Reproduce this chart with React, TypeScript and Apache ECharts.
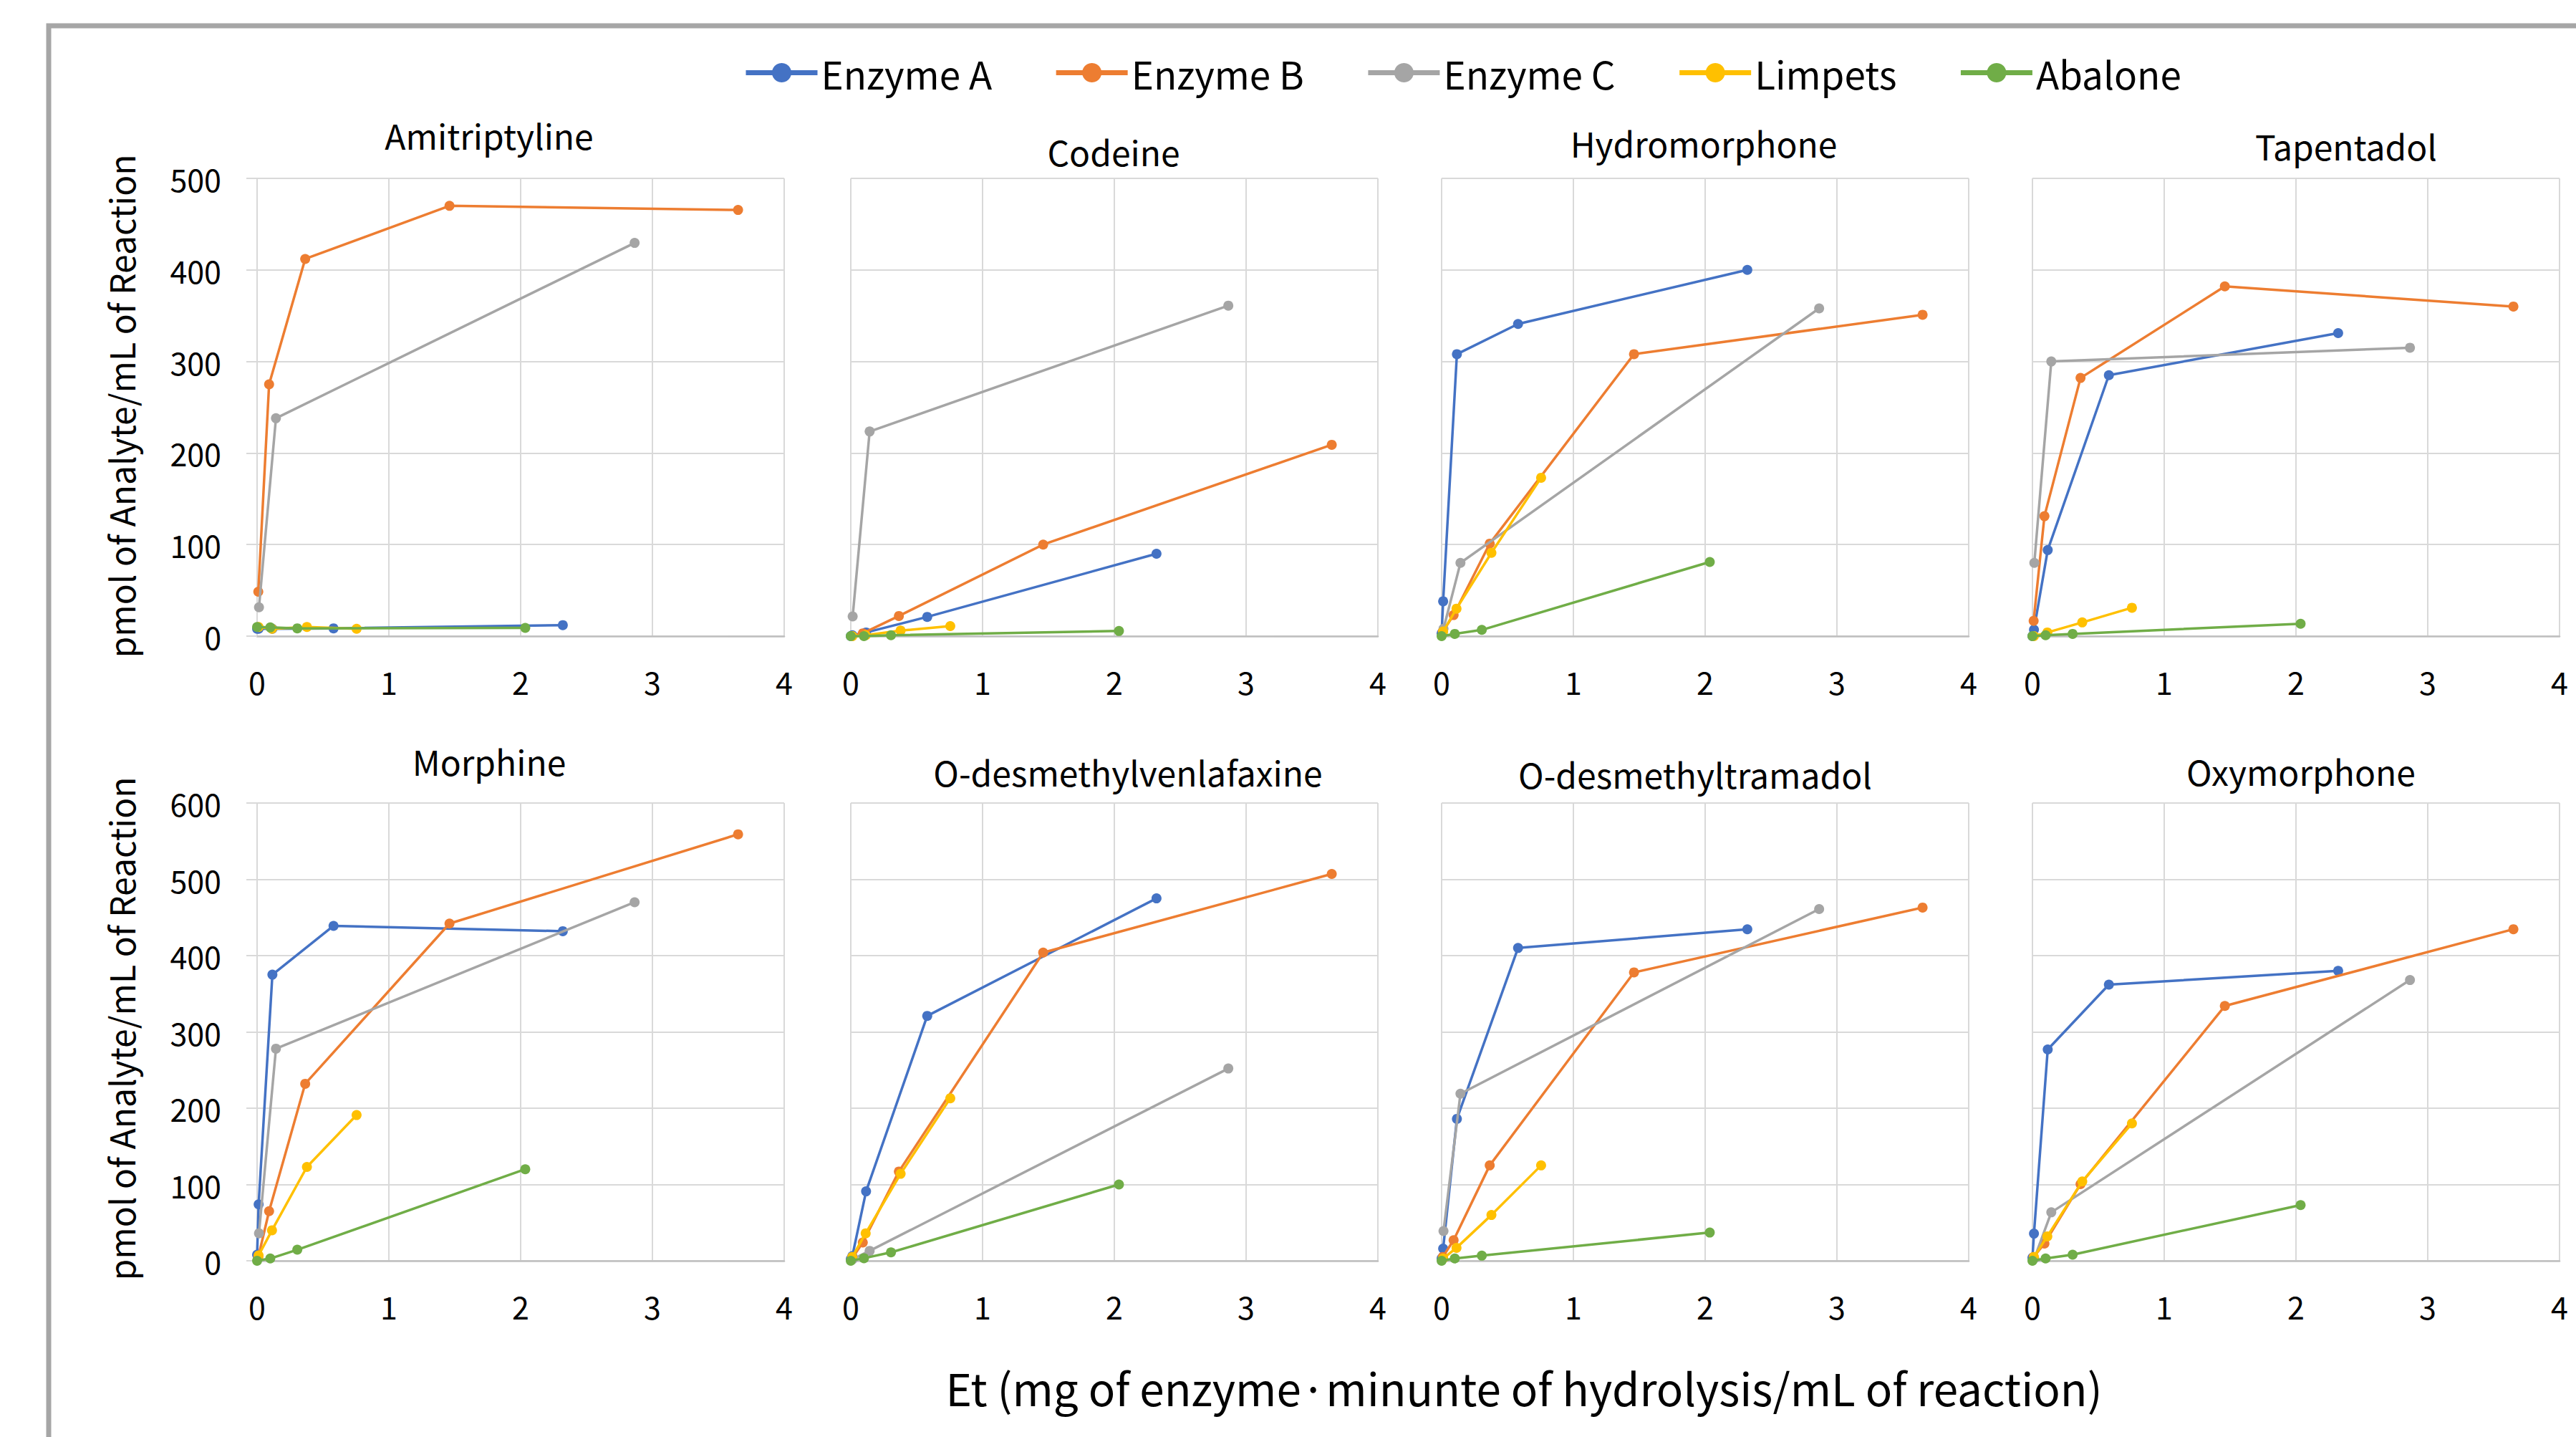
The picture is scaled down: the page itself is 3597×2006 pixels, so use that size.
import React, { useEffect, useRef } from "react";
import * as echarts from "echarts";

// ---------------- DATA ----------------
const drugs = [
  "Amitriptyline",
  "Codeine",
  "Hydromorphone",
  "Tapentadol",
  "Morphine",
  "O-desmethylvenlafaxine",
  "O-desmethyltramadol",
  "Oxymorphone",
];
const seriesNames = ["Enzyme A", "Enzyme B", "Enzyme C", "Limpets", "Abalone"];
const seriesColors = ["#4472C4", "#ED7D31", "#A5A5A5", "#FFC000", "#70AD47"];
const xTicks = [0, 1, 2, 3, 4];
const yMaxByRow = [500, 600];

// Et values (mg enzyme·min / mL) for each source
const etEnzymeA = [0, 0.0116, 0.116, 0.58, 2.32];
const etEnzymeB = [0.0091, 0.091, 0.365, 1.46, 3.65];
const etEnzymeC = [0.0143, 0.143, 2.865];
const etLimpets = [0.0113, 0.113, 0.378, 0.755];
const etAbalone = [0, 0.1, 0.305, 2.035];

// pmol analyte / mL, one row per drug (same order as `drugs`)
const enzymeAValues = [
  [8, 8, 8, 8.5, 12],
  [0, 1, 4, 21, 90],
  [3, 38, 308, 341, 400],
  [0, 7, 94, 285, 331],
  [8, 74, 375, 439, 432],
  [2, 6, 91, 321, 475],
  [3, 16, 186, 410, 434.5],
  [4, 35.6, 277, 362, 380],
];
const enzymeBValues = [
  [48.5, 275, 412, 470, 465.5],
  [0, 3, 22, 100, 209],
  [5, 23, 101, 308, 351],
  [16.7, 131, 282, 382, 360],
  [5, 65, 232, 442, 559],
  [3, 24, 117, 404, 507],
  [5, 27, 125, 378, 463],
  [5, 22.6, 100.5, 334, 434.6],
];
const enzymeCValues = [
  [31.5, 238, 429.5],
  [21.5, 223.5, 361],
  [8, 80, 358],
  [80, 300, 315],
  [36, 278, 470],
  [2, 13, 252],
  [39, 219, 461],
  [3, 63.5, 368],
];
const limpetsValues = [
  [10, 8, 10, 8],
  [0, 1, 6, 11],
  [5, 30, 91, 173],
  [0, 4, 15, 31],
  [7, 40, 123, 191],
  [5, 36, 114, 213],
  [3, 17, 60, 125],
  [5, 32, 104, 180],
];
const abaloneValues = [
  [10, 9.5, 8.5, 9],
  [0, 0, 1, 5.6],
  [0, 2.4, 6.8, 81],
  [0, 1, 2.4, 13.5],
  [0, 3, 14.5, 120],
  [0, 3.4, 11, 100],
  [0, 3, 6.7, 37],
  [0, 3, 8, 73],
];

const yAxisTitle = "pmol of Analyte/mL of Reaction";
const xAxisTitle = "Et (mg of enzyme·minunte of hydrolysis/mL of reaction)";

// ---------------- LAYOUT ----------------
const FONT = "'Noto Sans CJK JP', 'Noto Sans', sans-serif";
const colLefts = [359, 1188, 2013, 2838];
const colWidth = 736;
const rowTops = [249, 1121];
const rowHeight = 639;
const titlePos = [
  [683, 188],
  [1555, 211],
  [2379, 199],
  [3276, 203],
  [683, 1062],
  [1575, 1077],
  [2367, 1080],
  [3213, 1076],
];
const GRID = "#D9D9D9";

export default function App() {
  const ref = useRef<HTMLDivElement>(null);

  useEffect(() => {
    if (!ref.current) return;
    const chart = echarts.init(ref.current, undefined, { renderer: "svg" });

    const etArrays = [etEnzymeA, etEnzymeB, etEnzymeC, etLimpets, etAbalone];
    const valArrays = [enzymeAValues, enzymeBValues, enzymeCValues, limpetsValues, abaloneValues];

    const grids: any[] = [];
    const xAxes: any[] = [];
    const yAxes: any[] = [];
    const series: any[] = [];
    const graphics: any[] = [];

    drugs.forEach((drug, d) => {
      const row = Math.floor(d / 4);
      const col = d % 4;
      grids.push({
        left: colLefts[col],
        top: rowTops[row],
        width: colWidth,
        height: rowHeight,
        containLabel: false,
        outerBoundsMode: "none",
      });
      xAxes.push({
        type: "value",
        gridIndex: d,
        min: xTicks[0],
        max: xTicks[xTicks.length - 1],
        interval: 1,
        axisLine: { show: true, onZero: false, lineStyle: { color: "#BFBFBF", width: 2.5 } },
        axisTick: { show: false },
        axisLabel: { show: true, fontSize: 43, color: "#000", margin: 41, fontFamily: FONT },
        splitLine: { show: true, lineStyle: { color: GRID, width: 2 } },
      });
      yAxes.push({
        type: "value",
        gridIndex: d,
        min: 0,
        max: yMaxByRow[row],
        interval: 100,
        axisLine: { show: false },
        axisTick: { show: col === 0, length: 15, lineStyle: { color: GRID, width: 2 } },
        axisLabel: { show: col === 0, fontSize: 43, color: "#000", margin: 50, fontFamily: FONT },
        splitLine: { show: true, lineStyle: { color: GRID, width: 2 } },
      });
      seriesNames.forEach((name, s) => {
        const xs = etArrays[s];
        const ys = valArrays[s][d];
        series.push({
          name,
          type: "line",
          xAxisIndex: d,
          yAxisIndex: d,
          data: xs.map((x, i) => [x, ys[i]]),
          symbol: "circle",
          symbolSize: 14,
          showSymbol: true,
          clip: false,
          lineStyle: { width: 3.5, color: seriesColors[s] },
          itemStyle: { color: seriesColors[s] },
          emphasis: { disabled: true },
          z: 2 + s,
        });
      });
      graphics.push({
        type: "text",
        x: titlePos[d][0],
        y: titlePos[d][1],
        silent: true,
        style: {
          text: drug,
          fontSize: 48,
          fontFamily: FONT,
          fill: "#000",
          textAlign: "center",
          textVerticalAlign: "middle",
          align: "center",
          verticalAlign: "middle",
        },
      });
    });

    // Y-axis titles (one per row)
    [567, 1436].forEach((cy) => {
      graphics.push({
        type: "text",
        x: 168,
        y: cy,
        rotation: Math.PI / 2,
        silent: true,
        style: {
          text: yAxisTitle,
          fontSize: 48,
          fontFamily: FONT,
          fill: "#000",
          textAlign: "center",
          textVerticalAlign: "middle",
          align: "center",
          verticalAlign: "middle",
        },
      });
    });

    // X-axis title
    graphics.push({
      type: "text",
      x: 2128,
      y: 1936,
      silent: true,
      style: {
        text: xAxisTitle,
        fontSize: 62,
        fontFamily: FONT,
        fill: "#000",
        textAlign: "center",
        textVerticalAlign: "middle",
        align: "center",
        verticalAlign: "middle",
      },
    });

    // Outer chart-area border
    graphics.push({
      type: "rect",
      silent: true,
      shape: { x: 68, y: 36, width: 3700, height: 2200 },
      style: { fill: "none", stroke: "#A6A6A6", lineWidth: 7 },
    });

    chart.setOption({
      animation: false,
      backgroundColor: "#ffffff",
      textStyle: { fontFamily: FONT },
      legend: {
        data: seriesNames,
        left: 1033,
        top: 70,
        itemWidth: 100,
        itemHeight: 34,
        itemGap: 86,
        lineStyle: { width: 7 },
        textStyle: { fontSize: 53, color: "#000", fontFamily: FONT },
        selectedMode: false,
      },
      grid: grids,
      xAxis: xAxes,
      yAxis: yAxes,
      series,
      graphic: graphics,
    });

    return () => chart.dispose();
  }, []);

  return (
    <div
      ref={ref}
      style={{ position: "fixed", left: 0, top: 0, width: 3597, height: 2006, background: "#fff" }}
    />
  );
}
